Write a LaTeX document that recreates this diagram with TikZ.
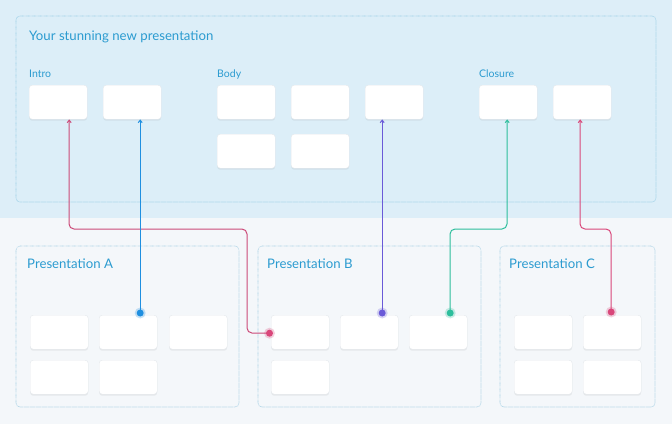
\documentclass[tikz,border=0pt]{standalone}
\usepackage{fontspec}
\setmainfont{Lato}
\usetikzlibrary{shadows,arrows.meta,calc}
\definecolor{topbg}{HTML}{DDEEF8}
\definecolor{topbox}{HTML}{DCEEF8}
\definecolor{topedge}{HTML}{98CDE6}
\definecolor{botbg}{HTML}{F4F7FA}
\definecolor{botedge}{HTML}{A6D0E4}
\definecolor{txt}{HTML}{2B9BD0}
\definecolor{cardedge}{HTML}{E4E8EC}
\definecolor{cred}{HTML}{CC4A78}
\definecolor{cblue}{HTML}{1F8FE0}
\definecolor{cpurple}{HTML}{6A5AD8}
\definecolor{cgreen}{HTML}{2DBE9C}
\definecolor{cpink}{HTML}{D9477A}
\tikzset{
  card/.style={draw=cardedge, line width=0.4pt, fill=white, rounded corners=3pt,
    minimum width=58pt, minimum height=34pt, anchor=north west, inner sep=0pt,
    drop shadow={shadow xshift=0pt, shadow yshift=-1.5pt, opacity=0.10, fill=black!60}},
  group/.style={rounded corners=4pt, line width=0.6pt, dash pattern=on 0.6pt off 0.6pt},
  title/.style={text=txt, anchor=base west, inner sep=0pt, font=\fontsize{13.2}{15}\selectfont},
  lab/.style={text=txt, anchor=base west, inner sep=0pt, font=\fontsize{10.5}{12}\selectfont},
  conn/.style={line width=1pt, rounded corners=5pt, -{Straight Barb[length=2.5pt,width=4pt]}},
}
\begin{document}
\begin{tikzpicture}[x=1pt,y=-1pt]
\useasboundingbox (0,0) rectangle (672,424);
% backgrounds
\fill[botbg] (0,0) rectangle (672,424);
\fill[topbg] (0,0) rectangle (672,218);
\draw[group, draw=topedge, fill=topbox] (16,16) rectangle (656,202);
\draw[group, draw=botedge, fill=botbg] (16,246) rectangle (239,407);
\draw[group, draw=botedge, fill=botbg] (258,246) rectangle (481,407);
\draw[group, draw=botedge, fill=botbg] (500,246) rectangle (655,407);
% titles
\node[title] (t0) at (29,40) {Your stunning new presentation};
\node[lab] (lint) at (29,77) {Intro};
\node[lab] (lbody) at (217,77) {Body};
\node[lab] (lclos) at (479,77) {Closure};
\node[title] (tA) at (27,268.5) {Presentation A};
\node[title] (tB) at (267,268.5) {Presentation B};
\node[title] (tC) at (509,268.5) {Presentation C};
% top cards
\node[card] (i1) at (29,85) {};
\node[card] (i2) at (103,85) {};
\node[card] (b1) at (217,85) {};
\node[card] (b2) at (291,85) {};
\node[card] (b3) at (365,85) {};
\node[card] (b4) at (217,134) {};
\node[card] (b5) at (291,134) {};
\node[card] (c1) at (479,85) {};
\node[card] (c2) at (553,85) {};
% bottom cards A
\node[card] (a1) at (30,315) {};
\node[card] (a2) at (99,315) {};
\node[card] (a3) at (169,315) {};
\node[card] (a4) at (30,360) {};
\node[card] (a5) at (99,360) {};
% B
\node[card] (pb1) at (271,315) {};
\node[card] (pb2) at (340,315) {};
\node[card] (pb3) at (409,315) {};
\node[card] (pb4) at (271,360) {};
% C
\node[card] (pc1) at (514,315) {};
\node[card] (pc2) at (583,315) {};
\node[card] (pc3) at (514,360) {};
\node[card] (pc4) at (583,360) {};
% dot coordinates
\coordinate (dred) at ($(pb1.west)+(-1.5,1)$);
\coordinate (dblue) at ($(a2.north)+(12,-2)$);
\coordinate (dpurple) at ($(pb2.north)+(13,-2)$);
\coordinate (dgreen) at ($(pb3.north)+(12,-2)$);
\coordinate (dpink) at ($(pc2.north)+(-1,-3)$);
% connectors
\draw[conn, cred] (dred) -- (247,333) -- (247,229) -- (69,229) -- ([xshift=11pt]i1.south);
\draw[conn, cblue] (dblue) -- (dblue |- i2.south);
\draw[conn, cpurple] (dpurple) -- (dpurple |- b3.south);
\draw[conn, cgreen] (dgreen) -- (450,229) -- (507,229) -- ([xshift=-1pt]c1.south);
\draw[conn, cpink] (dpink) -- (611,229) -- (580,229) -- ([xshift=-2pt]c2.south);
% dots
\foreach \d/\c in {dred/cpink, dblue/cblue, dpurple/cpurple, dgreen/cgreen, dpink/cpink}{
  \fill[\c, opacity=0.25] (\d) circle (5.5pt);
  \fill[\c] (\d) circle (3.5pt);
}
\end{tikzpicture}
\end{document}
